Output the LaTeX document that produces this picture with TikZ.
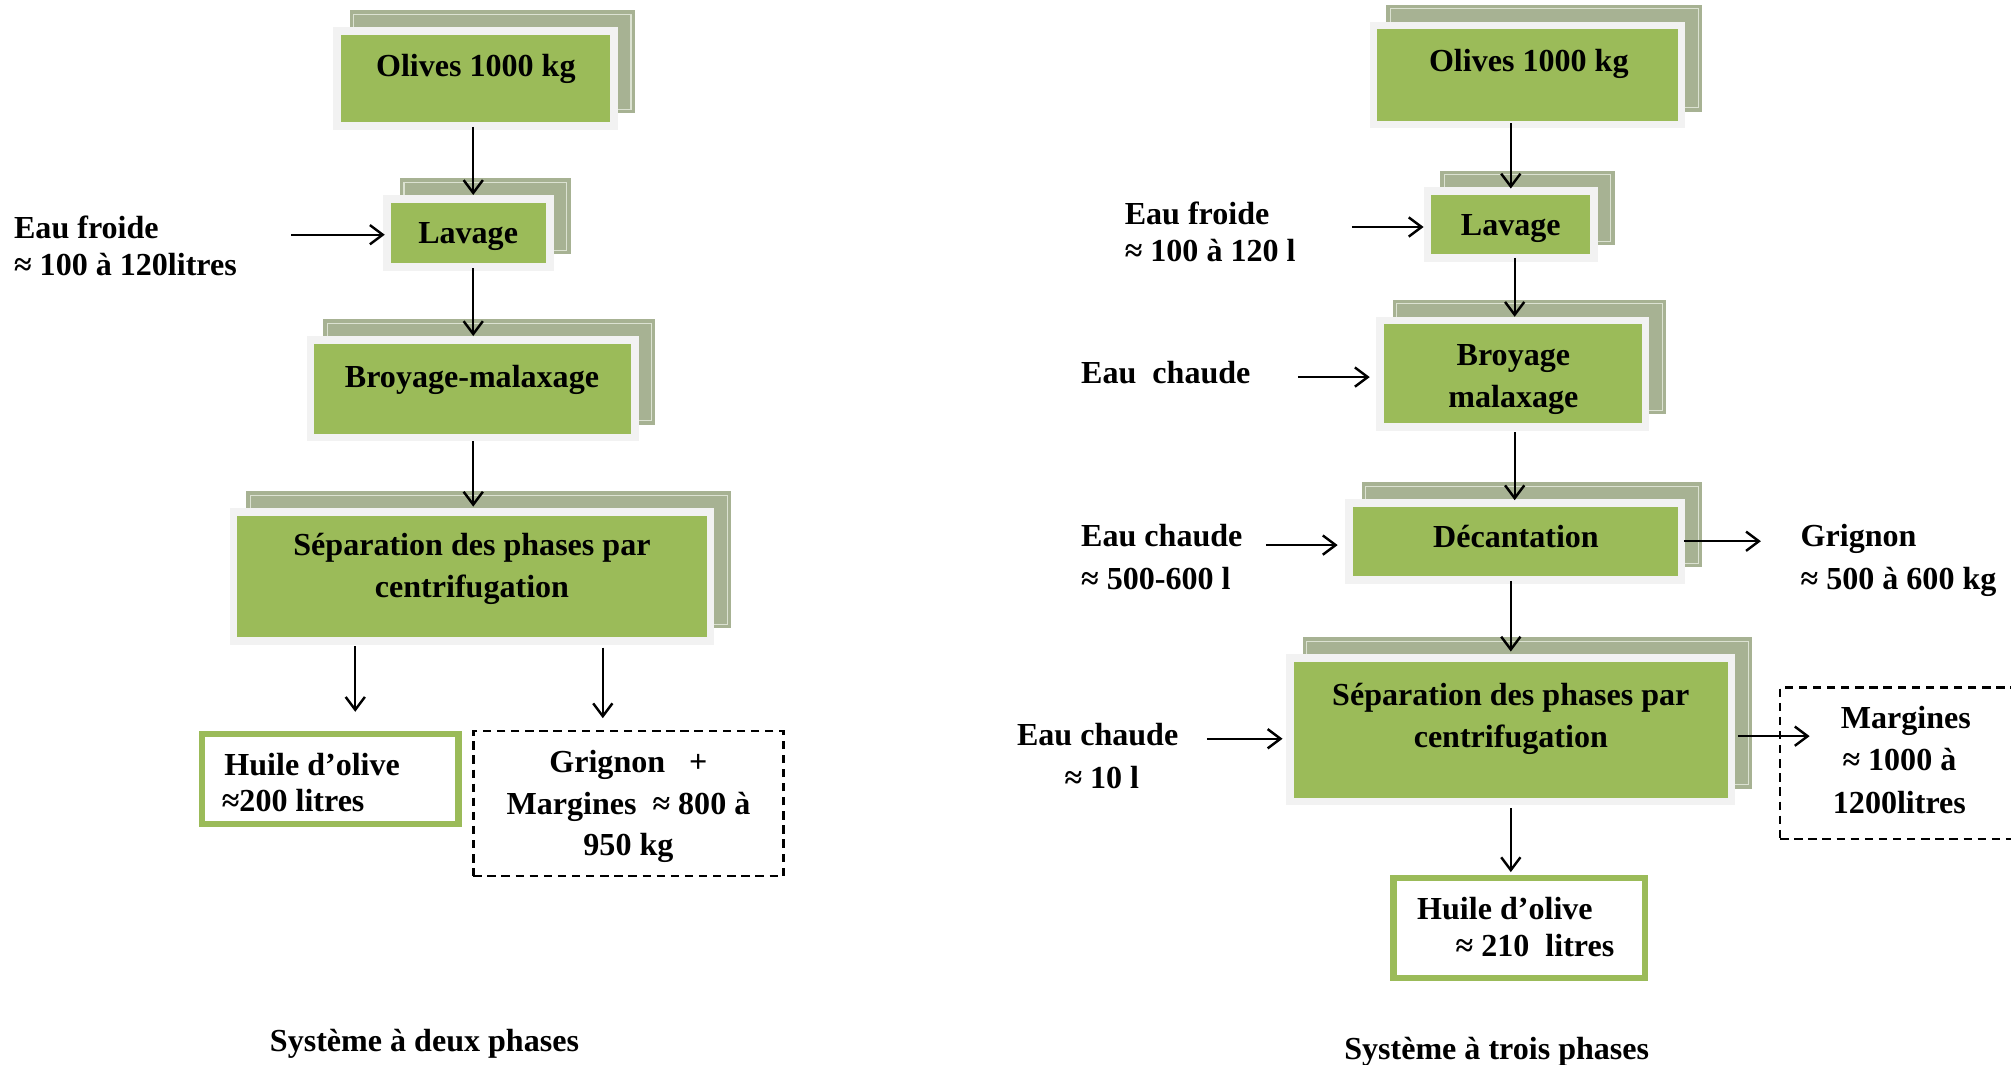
\documentclass[tikz,border=0pt]{standalone}
\usepackage{fontspec}
\setmainfont{Liberation Serif}
\usetikzlibrary{arrows.meta,fit}
\definecolor{gfill}{HTML}{9BBB59}
\definecolor{framec}{HTML}{F2F2F2}
\definecolor{shadowc}{HTML}{A7B293}
\definecolor{shadowline}{HTML}{DCE2D2}
\tikzset{
 gbox/.style={fill=gfill, inner sep=0pt, outer sep=0pt},
 txt/.style={inner sep=0pt, outer sep=0pt, font=\fontsize{25}{30}\selectfont\bfseries},
 tl/.style={txt, anchor=base west},
 tc/.style={txt, anchor=base},
 arr/.style={line width=1.7pt, -{Straight Barb[length=10pt,width=15pt,line width=1.9pt]}},
 hbox/.style={draw=gfill, line width=5pt, fill=white, inner sep=0pt},
 dbox/.style={draw=black, line width=2pt, dash pattern=on 6.5pt off 4.5pt, inner sep=0pt},
}
\newcommand\procbox[5]{%
 \fill[shadowc] (#2+7,#3-19) rectangle (#4+19,#5-7);
 \draw[shadowline, line width=0.8pt] (#2+10,#3-16) rectangle (#4+16,#5-10);
 \fill[framec] (#2-6,#3-6) rectangle (#4+6,#5+6);
 \node[gbox, fit={(#2,#3) (#4,#5)}] (#1) {};
}
\begin{document}
\begin{tikzpicture}[x=1pt,y=-1pt]
\path[use as bounding box, fill=white] (0,0) rectangle (1568,830);

% ---------------- left: two phases ----------------
\procbox{l1}{266}{27}{476}{95}
\procbox{l2}{305}{158}{426}{205}
\procbox{l3}{245}{268}{492}{338}
\procbox{l4}{185}{402}{551}{497}
\node[tc] (l1t) at (371,60) {Olives 1000 kg};
\node[tc] (l2t) at (365,190) {Lavage};
\node[tc] (l3t) at (368,302) {Broyage-malaxage};
\node[tc] (l4t) at (368,433) {Séparation des phases par};
\node[tc] (l4u) at (368,466) {centrifugation};

\node[hbox, fit={(157.5,572.5) (357.5,642.5)}] (lh) {};
\node[tl] (lht) at (175,605) {Huile d’olive};
\node[tl] (lhu) at (173,633) {≈200 litres};

\node[dbox, fit={(369,570) (611,683)}] (ld) {};
\node[tc] (ldt) at (490,602) {Grignon\ \ \ +};
\node[tc] (ldu) at (490,635) {Margines\ \ ≈ 800 à};
\node[tc] (ldv) at (490,667) {950 kg};

\node[tl] (lef) at (11,186) {Eau froide};
\node[tl] (leg) at (11,215) {≈ 100 à 120litres};

\node[tc] (lcap) at (331,820) {Système à deux phases};

\coordinate (lx1) at (369,0);
\coordinate (lx2) at (277,0);
\coordinate (lx3) at (470,0);
\coordinate (lef0) at (227,183);
\draw[arr, shorten <=4pt, shorten >=6pt] (l1.south -| lx1) -- (l2.north -| lx1);
\draw[arr, shorten <=4pt, shorten >=6pt] (l2.south -| lx1) -- (l3.north -| lx1);
\draw[arr, shorten <=6pt, shorten >=7pt] (l3.south -| lx1) -- (l4.north -| lx1);
\draw[arr, shorten <=7pt, shorten >=15pt] (l4.south -| lx2) -- (lh.north -| lx2);
\draw[arr, shorten <=8pt, shorten >=9pt] (l4.south -| lx3) -- (ld.north -| lx3);
\draw[arr, shorten >=5pt] (lef0) -- (lef0 -| l2.west);

% ---------------- right: three phases ----------------
\procbox{r1}{1074}{23}{1308}{94}
\procbox{r2}{1116}{152}{1240}{198}
\procbox{r3}{1079}{253}{1280}{330}
\procbox{r4}{1055}{395}{1308}{449}
\procbox{r5}{1009}{516}{1347}{622}
\node[tc] (r1t) at (1192,56) {Olives 1000 kg};
\node[tc] (r2t) at (1178,184) {Lavage};
\node[tc] (r3t) at (1180,285) {Broyage};
\node[tc] (r3u) at (1180,318) {malaxage};
\node[tc] (r4t) at (1182,427) {Décantation};
\node[tc] (r5t) at (1178,550) {Séparation des phases par};
\node[tc] (r5u) at (1178,583) {centrifugation};

\node[hbox, fit={(1086.5,684.5) (1282.5,762.5)}] (rh) {};
\node[tl] (rht) at (1105,717) {Huile d’olive};
\node[tl] (rhu) at (1135,746) {≈ 210\ \ litres};

\node[dbox, fit={(1388,536) (1576,654)}] (rd) {};
\node[tc] (rdt) at (1486,568) {Margines};
\node[tc] (rdu) at (1481,601) {≈ 1000 à};
\node[tc] (rdv) at (1481,634) {1200litres};

\node[tl] (ref) at (877,175) {Eau froide};
\node[tl] (reg) at (877,204) {≈ 100 à 120 l};
\node[tl] (rc1) at (843,299) {Eau\ \ chaude};
\node[tl] (rc2) at (843,426) {Eau chaude};
\node[tl] (rc2b) at (843,460) {≈ 500-600 l};
\node[tl] (rgr) at (1404,426) {Grignon};
\node[tl] (rgrb) at (1404,460) {≈ 500 à 600 kg};
\node[tl] (rc3) at (793,581) {Eau chaude};
\node[tl] (rc3b) at (830,615) {≈ 10 l};

\node[tc] (rcap) at (1167,826) {Système à trois phases};

\coordinate (rx1) at (1178,0);
\coordinate (rx2) at (1181,0);
\coordinate (ref0) at (1054,177);
\coordinate (rc10) at (1012,294);
\coordinate (rc20) at (987,425);
\coordinate (rc30) at (941,576);
\coordinate (rgr0) at (1373,422);
\coordinate (rma0) at (1411,574);
\draw[arr, shorten <=2pt, shorten >=5pt] (r1.south -| rx1) -- (r2.north -| rx1);
\draw[arr, shorten <=3pt, shorten >=6pt] (r2.south -| rx2) -- (r3.north -| rx2);
\draw[arr, shorten <=7pt, shorten >=5pt] (r3.south -| rx2) -- (r4.north -| rx2);
\draw[arr, shorten <=4pt, shorten >=8pt] (r4.south -| rx1) -- (r5.north -| rx1);
\draw[arr, shorten <=8pt, shorten >=2pt] (r5.south -| rx1) -- (rh.north -| rx1);
\draw[arr, shorten >=6pt] (ref0) -- (ref0 -| r2.west);
\draw[arr, shorten >=11pt] (rc10) -- (rc10 -| r3.west);
\draw[arr, shorten >=12pt] (rc20) -- (rc20 -| r4.west);
\draw[arr, shorten >=9pt] (rc30) -- (rc30 -| r5.west);
\draw[arr, shorten <=5pt] (rgr0 -| r4.east) -- (rgr0);
\draw[arr, shorten <=8pt] (rma0 -| r5.east) -- (rma0);
\end{tikzpicture}
\end{document}
